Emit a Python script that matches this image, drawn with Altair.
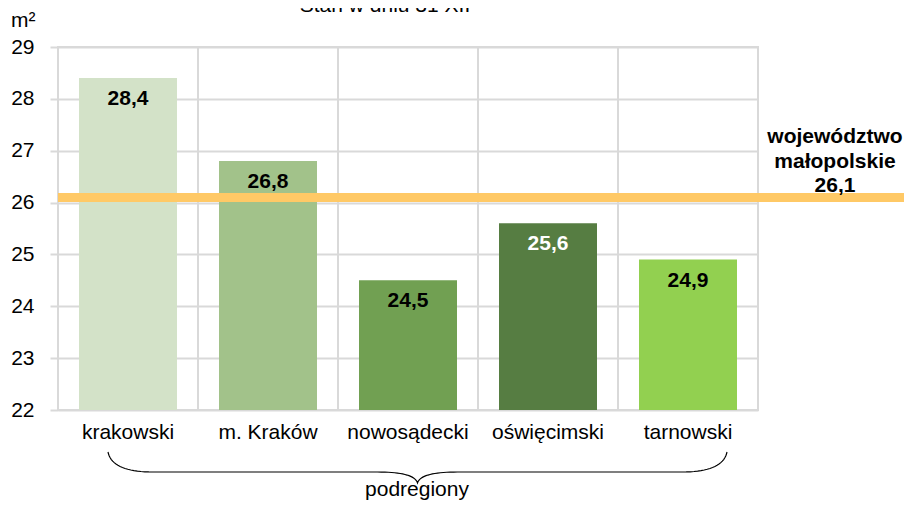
import altair as alt
import numpy as np
import pandas as pd

# ---- data ----
regions = ["krakowski", "m. Kraków", "nowosądecki", "oświęcimski", "tarnowski"]
values = [28.4, 26.8, 24.5, 25.6, 24.9]
voiv_name = ["województwo", "małopolskie"]
voiv_value = 26.1
y_ticks = [22, 23, 24, 25, 26, 27, 28, 29]
unit_label = "m²"
title_text = "Stan w dniu 31 XII"
group_label = "podregiony"

# ---- styles ----
bar_colors = ["#D3E2C8", "#A2C28A", "#71A052", "#567D42", "#92D050"]
grid_color = "#D9D9D9"
voiv_color = "#FFC966"
FONT = "Liberation Sans"
FS = 21
W, H = 700, 363

def fmt(v):
    return f"{v:.1f}".replace(".", ",")

df = pd.DataFrame({"region": regions, "value": values,
                   "label": [fmt(v) for v in values]})
df["base"] = y_ticks[0]
voiv_df = pd.DataFrame({"v": [voiv_value],
                        "label": ["\n".join(voiv_name + [fmt(voiv_value)])]})

x_axis = alt.Axis(title=None, labelAngle=0, labelFontSize=FS, labelColor="black",
                  labelFont=FONT, labelPadding=11, ticks=False, tickSize=0,
                  domain=False, grid=False)
x_scale = alt.Scale(domain=regions, paddingInner=0, paddingOuter=0)
y_scale = alt.Scale(domain=[y_ticks[0], y_ticks[-1]], zero=False, nice=False)
y_axis = alt.Axis(title=None, values=y_ticks, labelFontSize=FS, labelColor="black",
                  labelFont=FONT, tickSize=8, tickColor=grid_color, tickWidth=2,
                  gridColor=grid_color, gridWidth=2, domain=False, labelPadding=16)

base = alt.Chart(df)

vgrid = base.mark_rule(color=grid_color, strokeWidth=2).encode(
    x=alt.X("region:N", sort=regions, scale=x_scale, axis=x_axis, bandPosition=0),
    y=alt.value(0), y2=alt.value(H))

bars = base.mark_bar(size=98).encode(
    x=alt.X("region:N", sort=regions, scale=x_scale, axis=x_axis),
    y=alt.Y("value:Q", scale=y_scale, axis=y_axis),
    y2="base:Q",
    color=alt.Color("region:N", scale=alt.Scale(domain=regions, range=bar_colors),
                    legend=None))

labels = base.mark_text(dy=27, baseline="alphabetic", align="center",
                        fontWeight="bold", fontSize=FS, font=FONT).encode(
    x=alt.X("region:N", sort=regions, scale=x_scale, axis=x_axis),
    y=alt.Y("value:Q", scale=y_scale, axis=y_axis),
    text="label:N",
    color=alt.condition(alt.datum.region == "oświęcimski",
                        alt.value("white"), alt.value("black")))

voiv_rule = alt.Chart(voiv_df).mark_rule(color=voiv_color, strokeWidth=9).encode(
    y=alt.Y("v:Q", scale=y_scale, axis=y_axis),
    x=alt.value(0), x2=alt.value(846))

voiv_text = alt.Chart(voiv_df).mark_text(
    align="center", baseline="alphabetic", fontWeight="bold", fontSize=FS,
    font=FONT, lineHeight=24.5, lineBreak="\n", dy=-54, color="black").encode(
    y=alt.Y("v:Q", scale=y_scale, axis=y_axis),
    x=alt.value(777), text="label:N")

unit = alt.Chart(pd.DataFrame({"t": [unit_label]})).mark_text(
    align="left", baseline="alphabetic", fontSize=FS, font=FONT, color="black").encode(
    x=alt.value(-47), y=alt.value(-20), text="t:N")

title = alt.Chart(pd.DataFrame({"t": [title_text]})).mark_text(
    align="center", baseline="alphabetic", fontSize=FS, font=FONT, color="black").encode(
    x=alt.value(327), y=alt.value(-35), text="t:N")

group = alt.Chart(pd.DataFrame({"t": [group_label]})).mark_text(
    align="center", baseline="alphabetic", fontSize=FS, font=FONT, color="black").encode(
    x=alt.value(359), y=alt.value(449), text="t:N")

main = alt.layer(vgrid, bars, labels, voiv_rule, voiv_text, unit, title, group)

# ---- curly brace annotation (plot-pixel coordinates) ----
x0, x1 = 50.0, 669.0
xm = (x0 + x1) / 2
y0, y1, y2 = 405.0, 425.0, 436.0

def qbez(p0, p1, p2, n=20):
    t = np.linspace(0, 1, n)[:, None]
    return (1 - t) ** 2 * np.array(p0) + 2 * (1 - t) * t * np.array(p1) + t ** 2 * np.array(p2)

segs = [
    qbez((x0, y0), (x0 + 4, y1), (x0 + 45, y1)),
    qbez((xm - 40, y1), (xm - 3, y1), (xm, y2)),
    qbez((xm, y2), (xm + 3, y1), (xm + 40, y1)),
    qbez((x1 - 45, y1), (x1 - 4, y1), (x1, y0)),
]
pts = np.vstack(segs)
brace_df = pd.DataFrame({"bx": pts[:, 0], "by": pts[:, 1], "i": np.arange(len(pts))})

brace = alt.Chart(brace_df).mark_line(color="black", strokeWidth=1.2).encode(
    x=alt.X("bx:Q", scale=alt.Scale(domain=[0, W], nice=False, zero=False), axis=None),
    y=alt.Y("by:Q", scale=alt.Scale(domain=[0, H], nice=False, zero=False, reverse=True),
            axis=None),
    order="i:Q")

chart = alt.layer(main, brace).resolve_scale(
    x="independent", y="independent", color="independent"
).properties(
    width=W, height=H,
    autosize=alt.AutoSizeParams(type="none"),
    padding={"left": 50, "top": 39, "right": 146, "bottom": 94},
).configure(font=FONT).configure_view(stroke=grid_color, strokeWidth=2)

chart.save("out.html", embed_options={"renderer": "svg", "actions": False})
